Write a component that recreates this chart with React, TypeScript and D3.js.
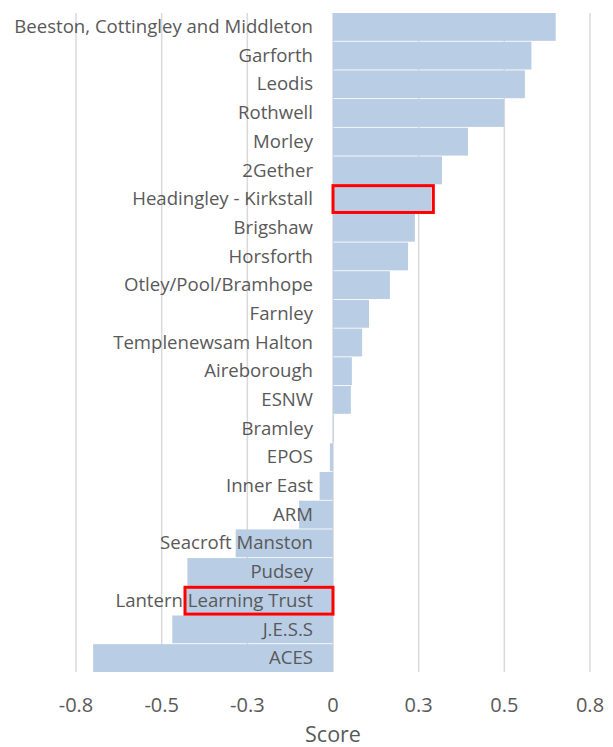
import React from 'react';
import * as d3 from 'd3';

const categories = [
  'Beeston, Cottingley and Middleton', 'Garforth', 'Leodis', 'Rothwell', 'Morley', '2Gether',
  'Headingley - Kirkstall', 'Brigshaw', 'Horsforth', 'Otley/Pool/Bramhope', 'Farnley',
  'Templenewsam Halton', 'Aireborough', 'ESNW', 'Bramley', 'EPOS', 'Inner East', 'ARM',
  'Seacroft Manston', 'Pudsey', 'Lantern Learning Trust', 'J.E.S.S', 'ACES',
];
const scores = [
  0.65, 0.579, 0.56, 0.499, 0.394, 0.318, 0.287, 0.239, 0.219, 0.166, 0.105, 0.085,
  0.055, 0.052, 0.002, -0.009, -0.039, -0.099, -0.284, -0.425, -0.43, -0.469, -0.70,
];
const tickValues = [-0.75, -0.5, -0.25, 0, 0.25, 0.5, 0.75];
const tickLabels = ['-0.8', '-0.5', '-0.3', '0', '0.3', '0.5', '0.8'];
const highlighted = ['Headingley - Kirkstall', 'Lantern Learning Trust'];

export default function App() {
  const width = 613;
  const height = 747;
  const top = 13;
  const bottom = 672;

  const x = d3.scaleLinear().domain([-0.75, 0.75]).range([76, 590]);
  const y = d3.scaleBand().domain(categories).range([top, bottom]).paddingInner(0.03);
  const font = '"Open Sans", sans-serif';

  return (
    <div style={{ position: 'absolute', left: 0, top: 0 }}>
      <svg width={width} height={height} style={{ display: 'block' }}>
        <rect width={width} height={height} fill="#fff" />
        {tickValues.map(t => (
          <line key={t} x1={x(t)} x2={x(t)} y1={top} y2={bottom} stroke="#d9d9d9" strokeWidth={1.5} />
        ))}
        {categories.map((c, i) => {
          const v = scores[i];
          return (
            <rect key={c} x={x(Math.min(0, v))} y={y(c)} width={Math.abs(x(v) - x(0))}
              height={y.bandwidth()} fill="#b9cde5" />
          );
        })}
        {categories.map(c => (
          <text key={c} x={313} y={(y(c) as number) + y.bandwidth() / 2} dy="0.33em"
            textAnchor="end" fontFamily={font} fontSize={18.6} fill="#595959">{c}</text>
        ))}
        {categories.map((c, i) => {
          if (!highlighted.includes(c)) return null;
          const v = scores[i];
          const isLabel = v < 0;
          const x0 = isLabel ? 185 : x(0);
          const x1 = isLabel ? x(0) : x(v) + 2;
          return (
            <rect key={'h' + c} x={x0} y={(y(c) as number) + 0.5} width={x1 - x0}
              height={y.bandwidth() - 1} fill="none" stroke="#ff0000" strokeWidth={3} />
          );
        })}
        {tickValues.map((t, i) => (
          <text key={'t' + t} x={x(t)} y={705} dy="0.36em" textAnchor="middle"
            fontFamily={font} fontSize={20} fill="#595959">{tickLabels[i]}</text>
        ))}
        <text x={x(0)} y={742} textAnchor="middle" fontFamily={font}
          fontSize={21.5} fill="#595959">Score</text>
      </svg>
    </div>
  );
}
